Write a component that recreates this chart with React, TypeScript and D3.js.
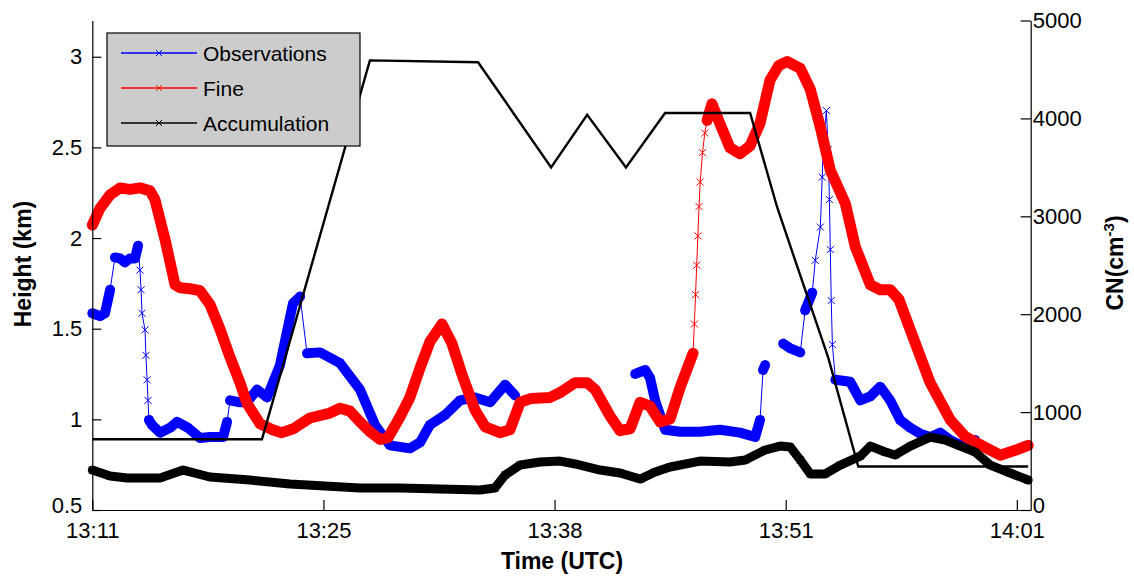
import React, { useRef, useEffect } from 'react'
import * as d3 from 'd3'

// x is the sample number of the flight record, ticks are labelled with UTC time
const timeTicks = [0, 1000, 2000, 3000, 4000]
const timeLabels = ['13:11', '13:25', '13:38', '13:51', '14:01']
const heightTicks = [0.5, 1, 1.5, 2, 2.5, 3]
const cnTicks = [0, 1000, 2000, 3000, 4000, 5000]

const legendNames = ['Observations', 'Fine', 'Accumulation']
const legendColors = ['#0000ff', '#ff0000', '#000000']

type Pt = [number, number | null]

// aircraft height (km), left axis
const altitude: Pt[] = [
  [0, 0.89], [734, 0.89], [1201, 2.98], [1669, 2.97], [1985, 2.39], [2141, 2.68],
  [2309, 2.39], [2478, 2.69], [2846, 2.69], [2963, 2.17], [3184, 1.34], [3314, 0.74], [4049, 0.74],
]

// CN (cm-3), right axis
const observations: Pt[] = [
  [0, 2010], [33, 1980], [55, 2010], [77, 2250], [98, 2580], [120, 2570], [141, 2530],
  [163, 2570], [185, 2570], [198, 2700], [206, 2450], [211, 2250], [215, 2010], [228, 1840],
  [232, 1580], [237, 1330], [241, 1120], [245, 920], [258, 870], [293, 790], [336, 840],
  [367, 900], [414, 840], [466, 735], [509, 745], [566, 745], [583, 900], [596, 1120],
  [639, 1100], [669, 1100], [713, 1230], [756, 1150], [812, 1480], [868, 2110], [899, 2180],
  [929, 1600], [985, 1610], [1072, 1500], [1158, 1230], [1223, 870], [1288, 660], [1374, 630],
  [1418, 690], [1461, 870], [1526, 970], [1591, 1120], [1656, 1150], [1721, 1100], [1786, 1280],
  [1829, 1170], [1850, null],
  [2349, 1390], [2392, 1430], [2413, 1350], [2435, 1120], [2478, 820], [2543, 800], [2629, 800],
  [2716, 820], [2802, 790], [2868, 745], [2889, 920], [2902, 1430], [2911, 1480], [2950, null],
  [2989, 1700], [3020, 1650], [3063, 1610], [3084, 2040], [3115, 2220], [3128, 2550], [3150, 2890],
  [3158, 3400], [3163, 3750], [3176, 4080], [3184, 3680], [3189, 3170], [3193, 2660], [3197, 2140],
  [3202, 1690], [3215, 1330], [3279, 1310], [3323, 1120], [3366, 1160], [3409, 1260], [3452, 1120],
  [3495, 920], [3539, 840], [3582, 780], [3625, 745], [3669, 790], [3712, 715], [3755, 665],
  [3820, 715],
]

const fine: Pt[] = [
  [0, 2910], [33, 3080], [77, 3220], [120, 3290], [163, 3275], [206, 3290], [250, 3260],
  [271, 3170], [315, 2760], [358, 2300], [380, 2270], [423, 2260], [466, 2240], [509, 2100],
  [552, 1850], [596, 1560], [639, 1300], [669, 1090], [726, 880], [782, 817], [820, 790],
  [870, 830], [942, 940], [1028, 990], [1072, 1040], [1115, 1010], [1158, 900], [1201, 800],
  [1245, 720], [1280, 740], [1331, 950], [1374, 1150], [1418, 1450], [1461, 1720], [1513, 1900],
  [1556, 1700], [1600, 1380], [1656, 1020], [1700, 850], [1764, 790], [1807, 820], [1851, 1100],
  [1900, 1140], [1981, 1150], [2024, 1200], [2089, 1300], [2141, 1300], [2176, 1230], [2240, 960],
  [2283, 810], [2327, 830], [2370, 1100], [2413, 1060], [2457, 900], [2500, 930], [2543, 1250],
  [2575, 1450], [2599, 1600], [2605, 1900], [2610, 2200], [2615, 2500], [2620, 2800], [2625, 3100],
  [2630, 3350], [2640, 3650], [2650, 3850], [2660, 3980], [2681, 4150], [2720, 3920], [2759, 3700],
  [2802, 3640], [2846, 3720], [2889, 3950], [2932, 4390], [2970, 4540], [3007, 4580], [3063, 4510],
  [3106, 4300], [3150, 3910], [3193, 3470], [3258, 3130], [3301, 2690], [3366, 2300], [3409, 2250],
  [3452, 2250], [3490, 2150], [3539, 1840], [3625, 1300], [3712, 920], [3777, 750], [3863, 640],
  [3928, 560], [3993, 610], [4049, 660],
]

const accumulation: Pt[] = [
  [0, 408], [77, 347], [150, 327], [293, 327], [393, 408], [509, 337], [682, 306], [855, 265],
  [1158, 225], [1331, 225], [1504, 214], [1677, 204], [1742, 225], [1786, 357], [1851, 459],
  [1937, 490], [2024, 500], [2089, 470], [2197, 408], [2283, 378], [2370, 316], [2435, 388],
  [2500, 439], [2629, 500], [2759, 490], [2825, 511], [2911, 613], [2976, 653], [3020, 643],
  [3063, 511], [3106, 368], [3171, 368], [3236, 459], [3323, 551], [3366, 653], [3431, 592],
  [3474, 562], [3539, 653], [3625, 745], [3690, 715], [3755, 653], [3820, 592], [3885, 459],
  [3971, 378], [4049, 306],
]

const W = 1134
const H = 576
const margin = { top: 20.5, right: 103.3, bottom: 66, left: 92.3 }
const font = '"Liberation Sans", Arial, Helvetica, sans-serif'

const App = () => {
  const svgRef = useRef<SVGSVGElement>(null)

  useEffect(() => {
    const svg = d3.select(svgRef.current)
    svg.selectAll('*').remove()

    const x = d3.scaleLinear().domain([0, 4060]).range([margin.left, W - margin.right])
    const yL = d3.scaleLinear().domain([0.5, 3.2]).range([H - margin.bottom, margin.top])
    const yR = d3.scaleLinear().domain([0, 5000]).range([H - margin.bottom, margin.top])

    // dense samples show up as a thick band, fast changes as a thin line with x markers
    const drawSeries = (data: Pt[], yScale: any, color: string, band: number) => {
      const g = svg.append('g')
      const pts = data.map(([i, v]) => (v == null ? null : [x(i), yScale(v)] as [number, number]))
      const runs: { thick: boolean; pts: [number, number][] }[] = []
      let cur: any = null
      for (let k = 1; k < pts.length; k++) {
        const a = pts[k - 1]
        const b = pts[k]
        if (!a || !b) { cur = null; continue }
        const dx = Math.abs(b[0] - a[0])
        const dy = Math.abs(b[1] - a[1])
        const thick = dy < 12 || dy <= 5 * dx
        if (!cur || cur.thick !== thick) {
          cur = { thick, pts: [a] }
          runs.push(cur)
        }
        cur.pts.push(b)
      }
      const line = d3.line()
      runs.forEach((r) => {
        g.append('path')
          .attr('d', line(r.pts))
          .attr('fill', 'none')
          .attr('stroke', color)
          .attr('stroke-width', r.thick ? band : 1)
          .attr('stroke-linejoin', 'round')
          .attr('stroke-linecap', r.thick ? 'round' : 'butt')
      })
      const s = 3.5
      g.append('path')
        .attr('d', pts.filter(Boolean).map((p) => {
          const [px, py] = p as [number, number]
          return `M${px - s},${py - s}L${px + s},${py + s}M${px - s},${py + s}L${px + s},${py - s}`
        }).join(''))
        .attr('fill', 'none')
        .attr('stroke', color)
        .attr('stroke-width', 1)
    }

    drawSeries(observations, yR, legendColors[0], 10)
    drawSeries(fine, yR, legendColors[1], 11)
    drawSeries(accumulation, yR, legendColors[2], 9)

    // flight altitude
    svg.append('path')
      .attr('d', d3.line<Pt>().x((d) => x(d[0])).y((d) => yL(d[1] as number))(altitude))
      .attr('fill', 'none')
      .attr('stroke', '#000')
      .attr('stroke-width', 2.4)

    const styleAxis = (g: any) => {
      g.attr('font-family', null).attr('font-size', null)
      g.selectAll('text').attr('font-size', 22).attr('fill', '#000')
      g.selectAll('line,path').attr('stroke', '#000').attr('stroke-width', 1.2)
    }

    svg.append('g')
      .attr('transform', `translate(0,${H - margin.bottom})`)
      .call(d3.axisBottom(x).tickValues(timeTicks).tickFormat((d, i) => timeLabels[i])
        .tickSizeInner(-10).tickSizeOuter(0).tickPadding(12))
      .call(styleAxis)

    svg.append('g')
      .attr('transform', `translate(${margin.left},0)`)
      .call(d3.axisLeft(yL).tickValues(heightTicks).tickFormat((d) => String(d))
        .tickSizeInner(-9).tickSizeOuter(0).tickPadding(10))
      .call(styleAxis)
      .selectAll('.tick text')
      .attr('dy', (d: any) => (d === 0.5 ? '0.1em' : '0.32em'))

    svg.append('g')
      .attr('transform', `translate(${W - margin.right},0)`)
      .call(d3.axisRight(yR).tickValues(cnTicks).tickFormat((d) => String(d))
        .tickSizeInner(-10).tickSizeOuter(0).tickPadding(2))
      .call(styleAxis)
      .selectAll('.tick text')
      .attr('dy', (d: any) => (d === 0 ? '0.1em' : '0.32em'))

    // axis titles
    svg.append('text')
      .attr('x', 562).attr('y', 569)
      .attr('text-anchor', 'middle').attr('font-weight', 'bold').attr('font-size', 23)
      .text('Time (UTC)')

    svg.append('text')
      .attr('transform', 'translate(31,264) rotate(-90)')
      .attr('text-anchor', 'middle').attr('font-weight', 'bold').attr('font-size', 23)
      .text('Height (km)')

    const cn = svg.append('text')
      .attr('transform', 'translate(1123,263) rotate(-90)')
      .attr('text-anchor', 'middle').attr('font-weight', 'bold').attr('font-size', 23)
    cn.append('tspan').text('CN(cm')
    cn.append('tspan').attr('font-size', 15).attr('dy', -9).text('-3')
    cn.append('tspan').attr('dy', 9).text(')')

    // legend
    const lg = svg.append('g')
    lg.append('rect')
      .attr('x', 107).attr('y', 33).attr('width', 253).attr('height', 113)
      .attr('fill', '#cccccc').attr('stroke', '#000').attr('stroke-width', 1.2)
    legendNames.forEach((name, i) => {
      const cy = 53 + i * 35
      lg.append('line')
        .attr('x1', 121).attr('x2', 197).attr('y1', cy).attr('y2', cy)
        .attr('stroke', legendColors[i]).attr('stroke-width', 1.5)
      lg.append('path')
        .attr('d', `M156,${cy - 3}L162,${cy + 3}M156,${cy + 3}L162,${cy - 3}`)
        .attr('stroke', legendColors[i]).attr('stroke-width', 1)
      lg.append('text')
        .attr('x', 203).attr('y', cy).attr('dy', '0.36em')
        .attr('font-size', 21)
        .text(name)
    })
  }, [])

  return (
    <svg
      ref={svgRef}
      width={W}
      height={H}
      style={{ position: 'absolute', left: 0, top: 0, background: '#fff', fontFamily: font }}
    />
  )
}

export default App
